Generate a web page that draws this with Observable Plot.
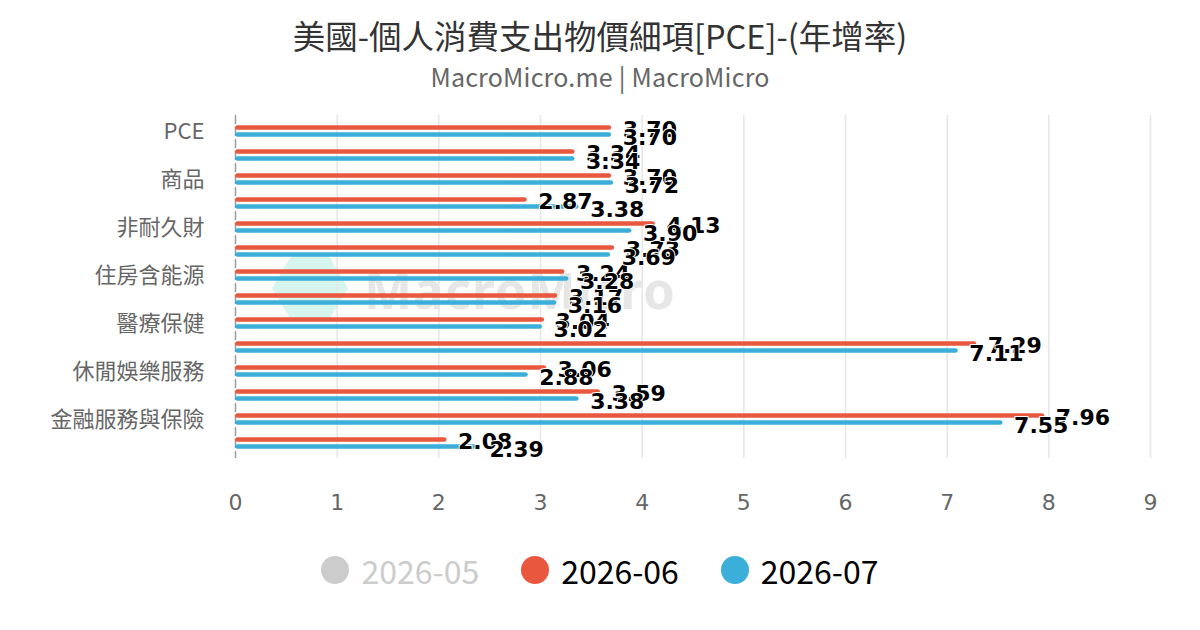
<!DOCTYPE html>
<html>
<head>
<meta charset="utf-8">
<script src="https://cdn.jsdelivr.net/npm/d3@7"></script>
<script src="https://cdn.jsdelivr.net/npm/@observablehq/plot@0.6"></script>
<style>
  html, body { margin: 0; padding: 0; background: #fff; }
  body { width: 1200px; height: 630px; position: relative; overflow: hidden; font-family: "Noto Sans CJK TC", "Noto Sans", sans-serif; }
  #title { position: absolute; top: 12px; left: 0; width: 1200px; text-align: center; font-size: 32.5px; line-height: 46px; color: #333; }
  #subtitle { position: absolute; top: 59px; left: 0; width: 1200px; text-align: center; font-size: 25px; line-height: 34px; color: #666; letter-spacing: 0.2px; }
  #wm { position: absolute; left: 272px; top: 254px; width: 420px; height: 70px; z-index: 0; }
  #wm .hex { position: absolute; left: 0; top: 2px; width: 76px; height: 64px; background: #d6f5ee; clip-path: polygon(25% 0, 75% 0, 100% 50%, 75% 100%, 25% 100%, 0 50%); }
  #wm .txt { position: absolute; left: 92px; top: 0; font-family: "Noto Sans", sans-serif; font-weight: bold; font-size: 51px; line-height: 70px; color: #e6e6e6; letter-spacing: 1px; }
  #chart { position: absolute; top: 100px; left: 0; z-index: 1; }
  #legend { position: absolute; top: 547px; left: 0; width: 1200px; display: flex; justify-content: center; align-items: center; gap: 42px; font-size: 32px; line-height: 46px; }
  #legend .item { display: flex; align-items: center; gap: 12px; }
  #legend .dot { width: 28px; height: 28px; border-radius: 50%; }
</style>
</head>
<body>
<div id="title">美國-個人消費支出物價細項[PCE]-(年增率)</div>
<div id="subtitle">MacroMicro.me | MacroMicro</div>
<div id="wm"><div class="hex"></div><div class="txt">MacroMicro</div></div>
<div id="chart"></div>
<div id="legend"></div>
<script>
// ---- data ----
const categories = ["PCE", "核心PCE", "商品", "耐久財", "非耐久財", "服務", "住房含能源", "運輸服務", "醫療保健", "食品服務與住宿", "休閒娛樂服務", "其他服務", "金融服務與保險", "非營利機構"];
const shownCategories = ["PCE", "商品", "非耐久財", "住房含能源", "醫療保健", "休閒娛樂服務", "金融服務與保險"];
const seriesNames = ["2026-05", "2026-06", "2026-07"];
const seriesColors = ["#cccccc", "#e9573f", "#3bafda"];
const seriesVisible = [false, true, true];
const values202606 = [3.70, 3.34, 3.70, 2.87, 4.13, 3.73, 3.24, 3.17, 3.04, 7.29, 3.06, 3.59, 7.96, 2.08];
const values202607 = [3.70, 3.34, 3.72, 3.38, 3.90, 3.69, 3.28, 3.16, 3.02, 7.11, 2.88, 3.38, 7.55, 2.39];
const xTicks = [0, 1, 2, 3, 4, 5, 6, 7, 8, 9];

const june = categories.map((c, i) => ({category: c, value: values202606[i]}));
const july = categories.map((c, i) => ({category: c, value: values202607[i]}));

const labelStyle = {
  textAnchor: "start", fontSize: 22, fontWeight: "bold", fontFamily: "DejaVu Sans",
  fill: "#000", stroke: "#fff", strokeWidth: 2, paintOrder: "stroke", lineAnchor: "middle"
};

const chart = Plot.plot({
  width: 1200,
  height: 430,
  marginLeft: 235,
  marginRight: 50,
  marginTop: 15,
  marginBottom: 72,
  style: {background: "transparent", overflow: "visible"},
  x: {domain: [0, 9], axis: null},
  y: {type: "band", domain: categories, padding: 0, axis: null},
  marks: [
    Plot.ruleX(xTicks.slice(1), {stroke: "#e6e6e6", strokeWidth: 1.5}),
    Plot.ruleX([0], {stroke: "#9a9a9a", strokeWidth: 1.5, strokeDasharray: "9,3"}),
    Plot.axisX({ticks: xTicks, tickSize: 0, tickPadding: 36, fontSize: 22, fontFamily: "DejaVu Sans", color: "#666", label: null, tickFormat: d => String(d)}),
    Plot.axisY({ticks: shownCategories, tickSize: 0, tickPadding: 31, fontSize: 22, fontFamily: "Noto Sans CJK TC", color: "#666", label: null}),
    Plot.barX(june, {x: "value", y: "category", fill: seriesColors[1], insetTop: 6.2, insetBottom: 13.3, rx: 2.5}),
    Plot.barX(july, {x: "value", y: "category", fill: seriesColors[2], insetTop: 13.3, insetBottom: 6.2, rx: 2.5}),
    Plot.text(june, {x: "value", y: "category", text: d => d.value.toFixed(2), dx: 11, dy: -1.5, ...labelStyle}),
    Plot.text(july, {x: "value", y: "category", text: d => d.value.toFixed(2), dx: 11, dy: 6.5, ...labelStyle})
  ]
});
document.getElementById("chart").appendChild(chart);

// ---- legend ----
const legend = document.getElementById("legend");
seriesNames.forEach((name, i) => {
  const item = document.createElement("div");
  item.className = "item";
  const dot = document.createElement("div");
  dot.className = "dot";
  dot.style.background = seriesColors[i];
  const label = document.createElement("span");
  label.textContent = name;
  label.style.color = seriesVisible[i] ? "#000" : "#cccccc";
  item.appendChild(dot);
  item.appendChild(label);
  legend.appendChild(item);
});
</script>
</body>
</html>
